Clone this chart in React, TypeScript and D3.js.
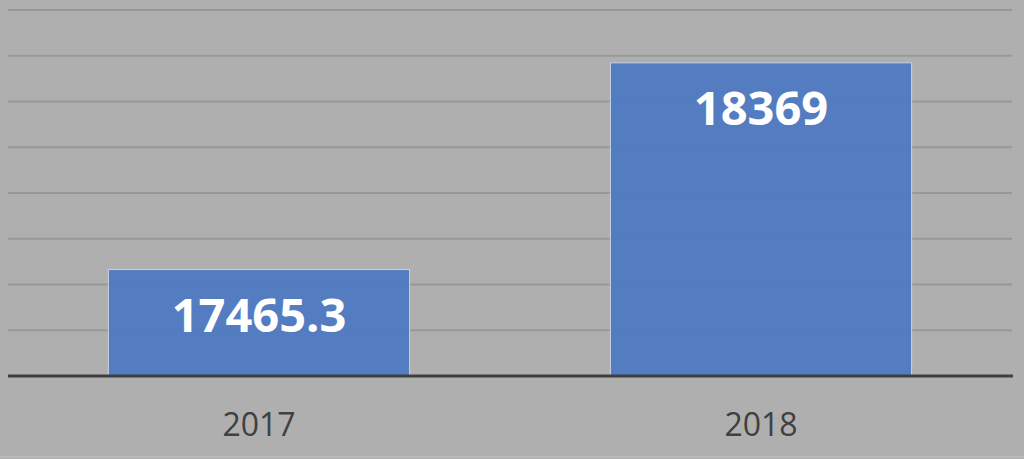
import * as d3 from "d3";
import { useEffect, useRef } from "react";

const years = ["2017", "2018"];
const values = [17465.3, 18369];
const valueLabels = ["17465.3", "18369"];
const yTicks = [17000, 17200, 17400, 17600, 17800, 18000, 18200, 18400, 18600];

const W = 1024;
const H = 459;

function App() {
  const svgRef = useRef<SVGSVGElement>(null);

  useEffect(() => {
    const svg = d3.select(svgRef.current);
    svg.selectAll("*").remove();

    const x = d3
      .scaleBand()
      .domain(years)
      .range([8, 1012])
      .paddingInner(0.4)
      .paddingOuter(0.2);
    const y = d3.scaleLinear().domain([17000, 18600]).range([376, 10]);

    svg.append("rect").attr("width", W).attr("height", H).attr("fill", "#afafaf");

    // grid
    svg
      .selectAll(".grid")
      .data(yTicks.slice(1))
      .enter()
      .append("line")
      .attr("x1", 8)
      .attr("x2", 1012)
      .attr("y1", (d) => y(d))
      .attr("y2", (d) => y(d))
      .attr("stroke", "#989898")
      .attr("stroke-width", 2);

    // bars
    svg
      .selectAll(".bar")
      .data(values)
      .enter()
      .append("rect")
      .attr("x", (d, i) => x(years[i])!)
      .attr("y", (d) => y(d))
      .attr("width", x.bandwidth())
      .attr("height", (d) => y(17000) - y(d))
      .attr("fill", "#4f79c1")
      .attr("fill-opacity", 0.95)
      .attr("stroke", "#c9d3e6")
      .attr("stroke-width", 1);

    // baseline
    svg
      .append("line")
      .attr("x1", 8)
      .attr("x2", 1013)
      .attr("y1", y(17000))
      .attr("y2", y(17000))
      .attr("stroke", "#3f3f3f")
      .attr("stroke-width", 3);

    // value labels
    svg
      .selectAll(".val")
      .data(values)
      .enter()
      .append("text")
      .attr("x", (d, i) => x(years[i])! + x.bandwidth() / 2)
      .attr("y", (d) => y(d) + 62)
      .attr("text-anchor", "middle")
      .attr("font-family", "'Open Sans', sans-serif")
      .attr("font-weight", "bold")
      .attr("font-size", 47)
      .attr("fill", "#ffffff")
      .text((d, i) => valueLabels[i]);

    // x axis labels
    svg
      .selectAll(".xl")
      .data(years)
      .enter()
      .append("text")
      .attr("x", (d) => x(d)! + x.bandwidth() / 2)
      .attr("y", 436)
      .attr("text-anchor", "middle")
      .attr("font-family", "'Open Sans', sans-serif")
      .attr("font-size", 32)
      .attr("fill", "#404040")
      .text((d) => d);

    svg
      .append("line")
      .attr("x1", 0)
      .attr("x2", W)
      .attr("y1", 457)
      .attr("y2", 457)
      .attr("stroke", "#c4c4c4")
      .attr("stroke-width", 1);
  }, []);

  return (
    <svg
      ref={svgRef}
      width={W}
      height={H}
      style={{ position: "absolute", left: 0, top: 0, display: "block" }}
    />
  );
}

export default App;
